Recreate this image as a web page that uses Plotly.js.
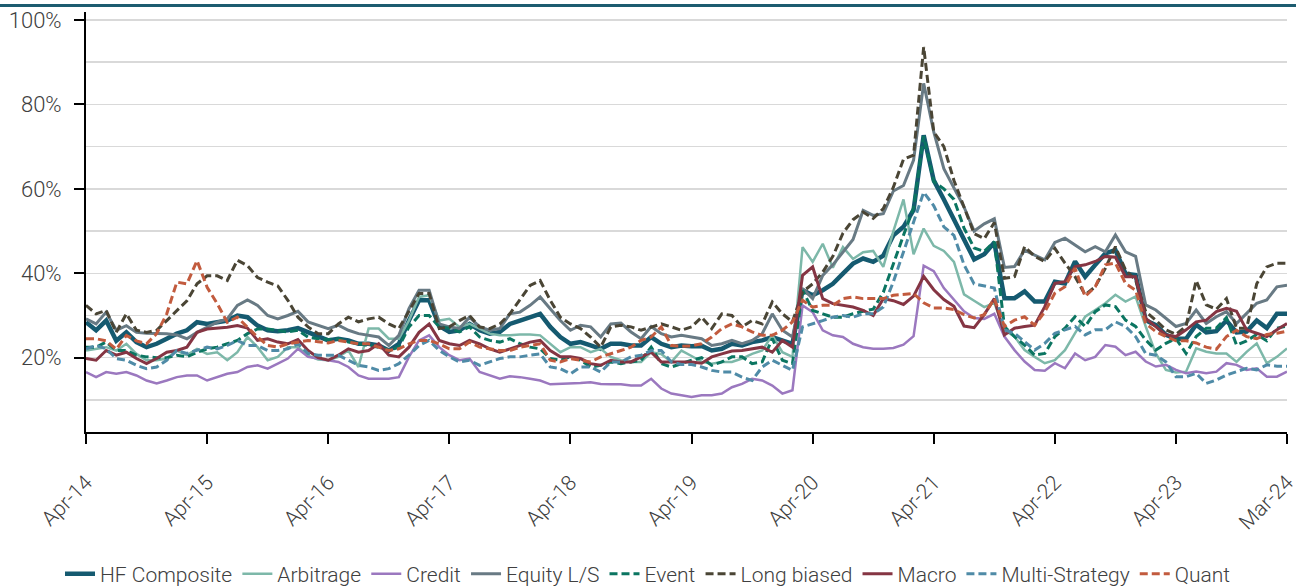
<!DOCTYPE html>
<html>
<head>
<meta charset="utf-8">
<script src="https://cdn.plot.ly/plotly-3.0.1.min.js"></script>
<style>
  html, body { margin: 0; padding: 0; background: #ffffff; }
  #topline { position: absolute; left: 0; top: 4px; width: 1296px; height: 3px; background: #1d5c70; z-index: 5; }
  #chart { width: 1296px; height: 587px; }
</style>
</head>
<body>
<div id="topline"></div>
<div id="chart"></div>
<script>
// Months Apr-14 .. Mar-24 (categories)
const monthNames = ['Jan','Feb','Mar','Apr','May','Jun','Jul','Aug','Sep','Oct','Nov','Dec'];
const months = [];
for (let i = 0; i < 120; i++) {
  const mi = (3 + i) % 12;
  const yr = 14 + Math.floor((3 + i) / 12);
  months.push(monthNames[mi] + '-' + String(yr).padStart(2, '0'));
}
const tickLabels = ['Apr-14','Apr-15','Apr-16','Apr-17','Apr-18','Apr-19','Apr-20','Apr-21','Apr-22','Apr-23','Mar-24'];

const seriesNames = ['HF Composite','Arbitrage','Credit','Equity L/S','Event','Long biased','Macro','Multi-Strategy','Quant'];

const hfComposite = [
  28.4,26.5,28.8,24,26,23.7,22.5,23.3,24.5,25.7,26.5,28.4,28,28.4,28.8,30,29.6,27.6,26.5,26.3,
  26.5,27,26,24.9,24.1,24.5,24.1,23.3,23.3,22.9,21.7,23.3,28.8,33.6,33.6,27.5,26.1,26.5,28,26.5,25.7,26.1,
  28,28.8,29.6,30.4,27.3,24.9,23.3,23.7,22.9,22.1,23.3,23.3,22.9,22.9,24.9,23.3,22.5,22.9,22.7,22.8,
  21.7,22.1,23.3,22.9,23.7,24.1,24.9,24.1,23.3,36,34.8,36,37.5,39.9,42.3,43.5,42.7,44.2,49,
  51,55,72.7,62,57.5,53,48,43.3,44.5,47.3,
  34.1,34.1,35.7,33.3,33.3,38,37.6,42.8,39.2,42,44.7,45.5,39.9,39.6,28.9,27.7,
  25.4,24.5,24.5,27.8,26,26.3,28.8,26,26.2,28.8,27,30.4,30.4
];
const arbitrage = [
  21.7,22.1,22.5,21.7,23.3,20.9,19.4,19.4,19.8,21.7,20.6,22.1,20.9,21.3,19.4,21.3,24.9,22.5,19.4,20.2,
  22.5,22.5,20.5,19.6,19.4,20.2,21.7,17.8,26.9,26.9,24.5,24.5,28.8,34.4,34.8,28.8,29.2,27.3,28,26.9,25.7,25.3,
  25.3,25.5,25.5,25.3,23.3,21.3,22.5,22.5,21.3,22.1,20.2,19.4,19,19,21.3,20.9,19,21.7,20.4,19,
  18.6,19,19,19.8,20.9,21.7,25.3,21.3,20.2,46.2,42.7,47,41.3,46.2,43.4,45,45.3,41.5,50,
  57.5,44.5,50.6,46.5,45.3,42.7,35,33.5,32,33,
  26.6,25,21.8,20.2,18.7,19.4,21.8,25.8,29.7,31.3,32.9,34.9,33.3,34.5,27.4,21,
  17.1,16.5,16.7,22.2,21.4,21,21,19,21.4,23.4,18.7,20.2,22.2
];
const credit = [
  16.6,15.4,16.6,16.2,16.6,15.8,14.6,13.9,14.6,15.4,15.8,15.8,14.6,15.4,16.2,16.6,17.8,18.2,17.4,18.6,
  19.8,22.1,20.2,19.8,19.4,19,17.8,15.8,15,15,15,15.4,20.2,24.1,25.3,22.5,20.6,19.4,19.8,16.6,15.8,15,
  15.6,15.4,15,14.6,13.7,13.8,13.8,14,14.2,13.8,13.7,13.7,13.4,13.4,15,12.7,11.5,11.1,10.7,11.1,
  11.1,11.5,13,13.8,15,14.6,13.4,11.5,12.3,32.4,30.8,26.5,25.3,24.9,23.3,22.5,22.1,22.1,22.3,
  23.1,25.1,41.8,40.5,36.5,33.8,31,29.4,29.2,30.4,
  25,21.8,19.1,17.1,16.9,18.7,17.5,21,19.4,20.2,23,22.6,20.6,21.4,19.1,17.9,
  18.3,17.1,16.3,16.7,16.3,16.7,18.7,18.3,17.1,17.5,15.5,15.5,16.7
];
const equityLS = [
  29.2,28,30.8,26.5,27.6,26,25.8,25.7,25.7,25.4,24.5,26,27.2,28.4,29.2,32.4,33.7,32.4,30,29.2,
  30,31,28.5,27.7,26.9,27.7,26.5,25.7,25.3,24.9,22.9,25.3,31.6,36,36,28,27.3,26.9,29.6,27.3,26.5,26.9,
  30.4,30.8,32.4,34.4,31.6,28.8,26.5,27.7,27.3,24.9,28,28.2,26.1,24.5,27.4,25.7,24.9,25.3,24.9,24.5,
  22.9,23.3,24.1,23.3,24.1,25.7,30.4,26.5,24.9,36.4,34,39.5,42,45,48,54.9,53.7,54.1,59.5,
  60.8,66.8,85,73.5,64.8,60.4,55.7,50,51.7,52.9,
  41.4,41.6,45.5,44.3,43.2,47.3,48.3,46.7,45.1,46.3,45.1,49.1,45.1,44,32.5,31.3,
  29.3,27.4,28.1,31.3,28.1,29.7,30.9,28.1,30.5,32.9,33.7,36.8,37.2
];
const eventDriven = [
  22.5,22.5,23.7,21.7,21.7,20.6,20.2,20,20,20.6,20.2,21.3,22.1,22.5,23.3,24.1,25.7,26.8,26.8,26.5,
  26.1,26.5,24.9,24.5,24.3,24.5,23.7,23.3,22.9,22.5,21.7,22.5,27.3,30,30,27.3,27,26.1,27.3,24.9,24.1,23.7,
  24.5,23.3,22.5,22.1,19.8,19.4,20.2,19.4,17.8,18.2,19,18.6,19,19.4,22.5,18.6,17.8,18.6,19.4,20,
  18.2,19,20.2,20.2,18.6,19,24.5,19.4,18.6,36,31.2,30.4,29.6,29.6,30.4,31,31.5,35.5,42.5,
  49,55.5,72.5,61.7,60,57.5,50.7,46,45.2,47.5,
  27.4,25,23,20.6,21,25,27,29.7,27.4,30.9,32.5,32.1,28.9,27.4,24.2,21.8,
  23.4,24.5,21,25,27,27,29.5,23,24,25.5,24,27,27.5
];
const longBiased = [
  32.4,30.4,31.2,26,30.4,26.5,26,26.5,28.8,31.2,33.5,37.5,39.4,39.4,38.3,43.1,41.8,39,37.9,37,
  33.6,29.6,27.3,25.7,25.7,28,29.6,28.5,29.2,29.6,28,26.9,31.2,35.2,35.2,26.9,27.3,28.8,30,27.3,26.9,28,
  30.4,33.6,37.1,38.3,33.6,29.6,28,26.9,24.9,22.5,27.3,27.7,27.3,26.5,27.3,28,27.3,26.5,27.3,29.6,
  26.9,30.4,30,27.3,28.8,28,33.2,30.4,28.5,35.6,37.5,40.3,44,49.5,52.7,54.5,53,55.3,60.4,
  67,68,93.6,73.5,70,62,55.7,49.4,48.2,52,
  38.8,39.2,46.3,44,42.8,45.9,42.4,39.2,34.9,36.8,41.2,46.3,40.8,38.4,30.9,28.9,
  26.6,25.5,27.5,38.3,32.5,31.5,34,27,27,37.5,41.5,42.4,42.4
];
const macro = [
  19.8,19.4,21.7,20.6,21.3,19.8,18.6,19.8,21.3,21.7,22.5,26,26.8,27,27.2,27.6,27,24.1,24.5,23.7,
  23.3,24.3,21.7,20,19.4,20.6,22.1,21.3,21.7,23.3,20.6,20.2,22.5,26,28,24.1,23.3,22.9,24.1,23.3,22.1,21.3,
  22.1,22.9,23.7,24.1,21.7,20.2,20.2,19.8,18.6,18.2,19.4,19,19,20.2,21.3,19,19,19,19,18.7,
  20.2,20.9,21.6,21.7,22.1,22.5,21.3,24.1,22.5,39.5,41.5,34,32.8,32.4,32,31.2,30,34,33.5,
  32.6,34.6,39.3,36.1,33.8,32.2,27.5,27.1,30.2,34,
  25.4,27,27.4,27.7,32.1,37.6,38,41.6,42,42.8,44,43.8,39.2,39.2,29.3,27.4,
  25.4,25,26.6,28.5,28.9,30.9,31.7,31,26.6,25.8,25,26.6,28.1
];
const multiStrategy = [
  22.1,22.9,22.1,19.8,19.4,18.2,17.4,17.8,19.4,21.7,21,21.7,22.5,22.1,22.9,24.1,22.9,22.9,21.7,21.7,
  22.1,23.3,21,20.6,20.6,20.6,19.4,18.2,17.8,17,17.4,18.6,20.6,22.9,24.1,21.7,20.2,19,19.4,18.2,19,19.8,
  20.2,20.2,20.6,20.9,17.8,17.4,16.2,17.8,17.8,16.6,19,19,20.2,20.6,21.7,21.7,19,18.4,18.4,17.8,
  17,16.6,16.6,15.4,14.6,17.8,19.4,18.2,17,27.3,28,28.8,29.6,30,29.6,30.4,30.4,32,38,
  45,52,59.2,56,51,49,42,37.5,37,36.5,
  26.6,25.8,23.8,21.8,23.4,25.8,26.6,27.4,25.4,26.6,26.6,28.5,27.4,25,21,20.6,
  19,15.5,15.5,16.3,13.9,14.7,15.9,16.7,17.5,17.1,18.3,18,18
];
const quant = [
  24.5,24.5,24,22,25.3,24,23.3,25.7,30.4,37.9,37.5,43,36.7,32.8,28.4,29.6,27.2,24.9,22.9,22.5,
  23.3,23.7,24.1,23.8,23.5,24.1,23.7,23.3,23.3,22.5,21.7,22.1,23.3,24.1,24.1,23.3,22.1,22.1,23.7,22.5,22.1,21.7,
  21.7,22.5,22.9,23.3,19.4,19,19.8,19.4,19,20.2,20.9,21.7,22.5,24.1,24.9,27.3,22.9,22.7,22.8,23.3,
  24.9,26.9,28,27.3,26.1,25.3,25.3,26.5,28.5,33.6,32,32.4,32.4,34,34.4,34,34,34,34.8,
  35,35.2,33,31.8,31.8,31.4,30.2,29.4,30.2,34,
  27.4,28.9,29.7,27.7,30.9,35.3,36.8,41.2,34.5,36.8,42,42.4,37.6,36,28.1,26.2,
  25,24,24,23.5,22.5,22,25,26.5,25,24.5,25.5,25.8,26.3
];

const seriesValues = [hfComposite, arbitrage, credit, equityLS, eventDriven, longBiased, macro, multiStrategy, quant];
const seriesColors = ['#155a70','#7db8a9','#9b78bf','#687a84','#0b7561','#4a4535','#853543','#4f8ba7','#c25b3e'];
const seriesDash = ['solid','solid','solid','solid','8px,4px','8px,4px','solid','8px,4px','8px,4px'];
const seriesWidth = [4.5, 2.5, 2.5, 3, 3, 3, 3, 3, 3];

const traces = seriesNames.map((name, i) => ({
  type: 'scatter',
  mode: 'lines',
  name: name,
  x: months,
  y: seriesValues[i],
  line: { color: seriesColors[i], width: seriesWidth[i], dash: seriesDash[i] },
  hoverinfo: 'skip'
}));

const fontFam = 'Roboto, "Open Sans", sans-serif';
const layout = {
  width: 1296,
  height: 587,
  margin: { l: 86, r: 9, t: 12, b: 155, autoexpand: false },
  paper_bgcolor: '#ffffff',
  plot_bgcolor: '#ffffff',
  font: { family: fontFam, size: 21, color: '#404040', weight: 300 },
  showlegend: true,
  legend: {
    orientation: 'h',
    xref: 'container', yref: 'container',
    x: 0.5, xanchor: 'center',
    y: 0.022, yanchor: 'middle',
    font: { family: fontFam, size: 21, color: '#404040', weight: 300 },
    itemwidth: 30,
    tracegroupgap: 0
  },
  xaxis: {
    type: 'category',
    range: [0, 119],
    tickmode: 'array',
    tickvals: tickLabels,
    ticktext: tickLabels,
    tickangle: -45,
    ticks: 'outside',
    ticklen: 10,
    tickwidth: 2,
    tickcolor: '#000000',
    showline: true,
    linecolor: '#000000',
    linewidth: 2,
    showgrid: false,
    zeroline: false,
    automargin: false,
    tickfont: { family: fontFam, size: 21, color: '#404040', weight: 300 },
    ticklabelstandoff: 18
  },
  yaxis: {
    range: [2.4, 101.9],
    tickmode: 'array',
    tickvals: [20, 40, 60, 80, 100],
    ticktext: ['20%', '40%', '60%', '80%', '100%'],
    ticks: 'outside',
    ticklen: 10,
    tickwidth: 2,
    tickcolor: '#000000',
    showline: true,
    linecolor: '#000000',
    linewidth: 2,
    showgrid: true,
    gridcolor: '#d9d9d9',
    gridwidth: 1.5,
    zeroline: false,
    automargin: false,
    minor: { tickmode: 'array', tickvals: [10, 30, 50, 70, 90], showgrid: true, gridcolor: '#d9d9d9', gridwidth: 1.5, ticks: '' },
    tickfont: { family: fontFam, size: 22, color: '#404040', weight: 300 },
    ticklabelstandoff: 8
  }
};

Plotly.newPlot('chart', traces, layout, { displayModeBar: false, staticPlot: true });
</script>
</body>
</html>
